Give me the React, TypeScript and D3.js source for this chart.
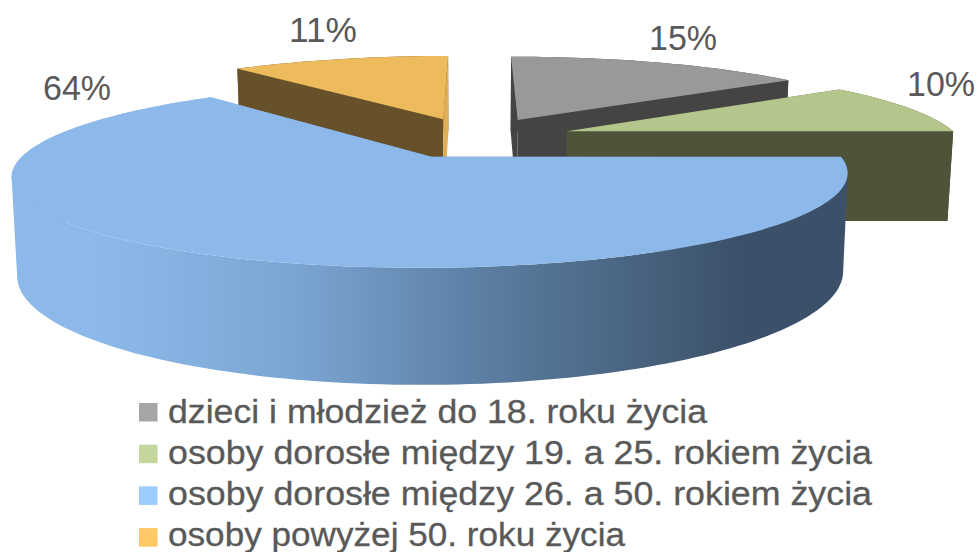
import React from "react";
import * as d3 from "d3";

const categories = [
  "dzieci i młodzież do 18. roku życia",
  "osoby dorosłe między 19. a 25. rokiem życia",
  "osoby dorosłe między 26. a 50. rokiem życia",
  "osoby powyżej 50. roku życia",
];
const values = [15, 10, 64, 11];
const topColors = ["#999999", "#B4C68C", "#8DB9EA", "#EDBB5C"];
const startWallColors = ["#444444", "#4D543A", "url(#blueWall)", "#67512A"];
const endWallColors = ["#444444", "#4D543A", "url(#blueWall)", "#E0AF55"];
const bandColors = ["#444444", "#4D543A", "url(#blueWall)", "#67512A"];
const legendColors = ["#A6A6A6", "#C3D69B", "#9BCBFF", "#FFC864"];
const legendWidths = [539, 704, 704, 457];
const labelPositions: [number, number][] = [[683, 50], [941, 96], [77, 100], [323, 42]];
const drawOrder = [3, 0, 1, 2];

const W = 979, H = 552;
const cx = 475, cy = 137.5, rx = 392, ry = 81.5, k = 0.19;
const explode = 0.25, depth = 91, shrink = 0.988;

type P = [number, number];
const project = (u: number, v: number, low: boolean): P => {
  const w = 1 + k * v;
  const s = low ? shrink : 1;
  return [cx + (s * rx * u) / w, cy + ((low ? depth : 0) - s * ry * v) / w];
};

const pieGen = d3.pie<number>().sort(null).value((d) => d);
const arcs = pieGen(values);
const line = d3.line<P>();

export default function App() {
  const slices = arcs.map((a) => {
    const mid = (a.startAngle + a.endAngle) / 2;
    const ou = explode * Math.sin(mid), ov = explode * Math.cos(mid);
    const pt = (ang: number, low: boolean) => project(ou + Math.sin(ang), ov + Math.cos(ang), low);
    const n = Math.max(8, Math.ceil((a.endAngle - a.startAngle) * 40));
    const angs = d3.range(n + 1).map((i) => a.startAngle + ((a.endAngle - a.startAngle) * i) / n);
    const apexTop = project(ou, ov, false), apexLow = project(ou, ov, true);
    const topArc = angs.map((t) => pt(t, false));
    const lowArc = angs.map((t) => pt(t, true));
    const close = (p: P[]) => line(p) + "Z";
    // The outer wall is a run of quads, all wound the same way so they add up under nonzero fill.
    const band = d3.range(n).map((i) => {
      const q: P[] = [topArc[i], topArc[i + 1], lowArc[i + 1], lowArc[i]];
      return close((d3.polygonArea(q) < 0 ? [...q].reverse() : q));
    }).join("");
    return {
      top: close([apexTop, ...topArc]),
      band,
      startWall: close([apexTop, topArc[0], lowArc[0], apexLow]),
      endWall: close([apexTop, topArc[n], lowArc[n], apexLow]),
    };
  });

  return (
    <svg
      width={W}
      height={H}
      viewBox={`0 0 ${W} ${H}`}
      style={{ position: "fixed", left: 0, top: 0, display: "block", background: "#fff" }}
    >
      <defs>
        <linearGradient id="blueWall" gradientUnits="userSpaceOnUse" x1={100} y1={0} x2={740} y2={0}>
          <stop offset="0" stopColor="#8DB9EA" />
          <stop offset="0.3" stopColor="#7BA6D3" />
          <stop offset="0.6" stopColor="#5B7EA2" />
          <stop offset="1" stopColor="#3C5169" />
        </linearGradient>
      </defs>
      {drawOrder.map((i) => (
        <g key={i}>
          <path d={slices[i].band} fill={bandColors[i]} fillRule="nonzero" />
          <path d={slices[i].startWall} fill={startWallColors[i]} />
          <path d={slices[i].endWall} fill={endWallColors[i]} />
          <path d={slices[i].top} fill={topColors[i]} />
        </g>
      ))}
      {values.map((v, i) => (
        <text
          key={i}
          x={labelPositions[i][0] - 34}
          y={labelPositions[i][1]}
          fontFamily="Liberation Sans"
          fontSize={35}
          textLength={68}
          lengthAdjust="spacingAndGlyphs"
          fill="#595959"
        >
          {v}%
        </text>
      ))}
      {categories.map((c, i) => (
        <g key={c}>
          <rect x={139} y={403 + i * 41.7} width={18.5} height={18.5} fill={legendColors[i]} />
          <text
            x={168}
            y={422.5 + i * 41.2}
            fontFamily="Liberation Sans"
            fontSize={33}
            textLength={legendWidths[i]}
            lengthAdjust="spacingAndGlyphs"
            fill="#595959"
            stroke="#595959"
            strokeWidth={0.3}
          >
            {c}
          </text>
        </g>
      ))}
    </svg>
  );
}
